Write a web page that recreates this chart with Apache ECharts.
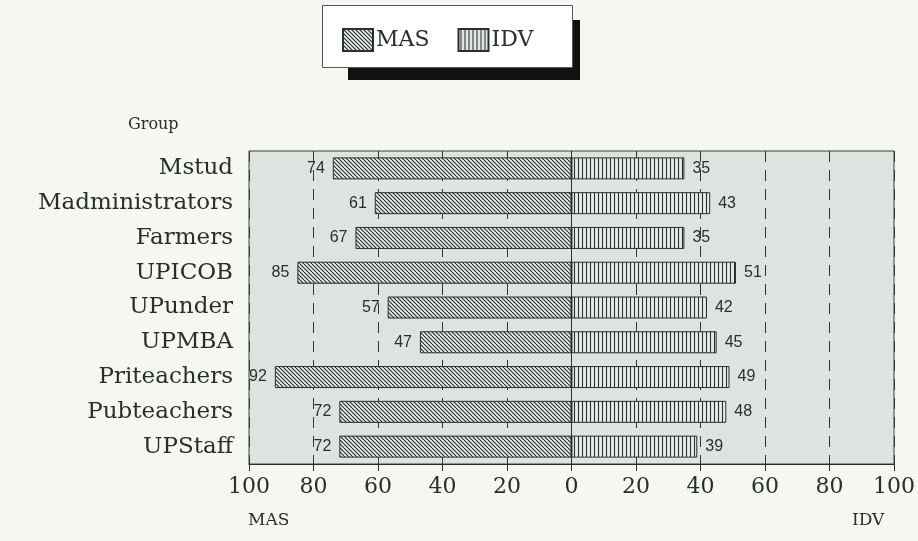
<!DOCTYPE html>
<html>
<head>
<meta charset="utf-8">
<script src="https://cdn.jsdelivr.net/npm/echarts@6/dist/echarts.min.js"></script>
<style>
  html, body { margin: 0; padding: 0; background: #f6f6f3; }
  #main { width: 918px; height: 541px; }
</style>
</head>
<body>
<div id="main"></div>
<script>
var groups = ['Mstud', 'Madministrators', 'Farmers', 'UPICOB', 'UPunder', 'UPMBA', 'Priteachers', 'Pubteachers', 'UPStaff'];
var masValues = [74, 61, 67, 85, 57, 47, 92, 72, 72];
var idvValues = [35, 43, 35, 51, 42, 45, 49, 48, 39];

var serifFont = '"DejaVu Serif", serif';
var sansFont = '"Liberation Sans", Arial, sans-serif';
var inkColor = '#27302c';

function makePattern(kind)
{
    var size = 8;
    var c = document.createElement('canvas');
    c.width = size;
    c.height = size;
    var ctx = c.getContext('2d');
    ctx.fillStyle = '#e6ebe7';
    ctx.fillRect(0, 0, size, size);
    ctx.strokeStyle = inkColor;
    ctx.lineWidth = 1.1;
    ctx.beginPath();
    if(kind == 'diag')
    {
        // "\" direction lines, spaced 4px
        for(var k = -size; k <= size; k += 4)
        {
            ctx.moveTo(k, 0);
            ctx.lineTo(k + size, size);
        }
    }
    else
    {
        ctx.moveTo(2.5, 0); ctx.lineTo(2.5, size);
        ctx.moveTo(6.5, 0); ctx.lineTo(6.5, size);
    }
    ctx.stroke();
    return c;
}

var masFill = {image: makePattern('diag'), repeat: 'repeat'};
var idvFill = {image: makePattern('vert'), repeat: 'repeat'};

var chart = echarts.init(document.getElementById('main'));
var option = {
    backgroundColor: '#f6f6f3',
    animation: false,
    graphic: [
        {type: 'rect', left: 348, top: 20, shape: {width: 232, height: 60}, style: {fill: '#111'}, z: 1},
        {type: 'rect', left: 322, top: 5, shape: {width: 250, height: 62}, style: {fill: '#ffffff', stroke: '#555', lineWidth: 1}, z: 2},
        {type: 'text', left: 128, top: 117, style: {text: 'Group', font: '16px ' + serifFont, fill: inkColor}},
        {type: 'text', left: 248, top: 512, style: {text: 'MAS', font: '17px ' + serifFont, fill: inkColor}},
        {type: 'text', left: 852, top: 512, style: {text: 'IDV', font: '17px ' + serifFont, fill: inkColor}}
    ],
    legend: {
        top: 23,
        left: 337,
        icon: 'rect',
        itemWidth: 30,
        itemHeight: 22,
        itemGap: 28,
        z: 5,
        textStyle: {fontFamily: serifFont, fontSize: 22, color: inkColor, padding: [0, 0, 0, -2]},
        data: ['MAS', 'IDV']
    },
    grid: {
        left: 249,
        right: 20,
        top: 151,
        height: 313,
        show: true,
        backgroundColor: '#dde4df',
        borderColor: '#3a423e',
        borderWidth: 1
    },
    xAxis: {
        type: 'value',
        min: -100,
        max: 100,
        interval: 20,
        axisLine: {show: true, lineStyle: {color: inkColor, width: 1.2}},
        axisTick: {show: true, length: 7, lineStyle: {color: inkColor}},
        axisLabel: {
            fontFamily: serifFont,
            fontSize: 22,
            color: inkColor,
            margin: 12,
            formatter: function(v) { return Math.abs(v); }
        },
        splitLine: {show: true, lineStyle: {color: '#2f3833', type: [11, 8], width: 1}}
    },
    yAxis: {
        type: 'category',
        inverse: true,
        data: groups,
        axisLine: {show: true, lineStyle: {color: inkColor}},
        axisTick: {show: true, length: 12, alignWithLabel: true, lineStyle: {color: inkColor}},
        axisLabel: {fontFamily: serifFont, fontSize: 23, color: inkColor, margin: 16}
    },
    series: [
        {
            name: 'MAS',
            type: 'bar',
            barWidth: 22,
            barGap: '-100%',
            itemStyle: {color: masFill, borderColor: inkColor, borderWidth: 1},
            label: {
                show: true,
                position: 'left',
                distance: 8,
                fontFamily: sansFont,
                fontSize: 16,
                color: inkColor,
                formatter: function(p) { return Math.abs(p.value); }
            },
            data: masValues.map(function(v) { return -v; }),
            markLine: {
                silent: true,
                symbol: 'none',
                label: {show: false},
                lineStyle: {color: inkColor, type: 'solid', width: 1},
                data: [{xAxis: 0}]
            }
        },
        {
            name: 'IDV',
            type: 'bar',
            barWidth: 22,
            itemStyle: {color: idvFill, borderColor: inkColor, borderWidth: 1},
            label: {
                show: true,
                position: 'right',
                distance: 8,
                fontFamily: sansFont,
                fontSize: 16,
                color: inkColor
            },
            data: idvValues
        }
    ]
};
chart.setOption(option);
</script>
</body>
</html>
